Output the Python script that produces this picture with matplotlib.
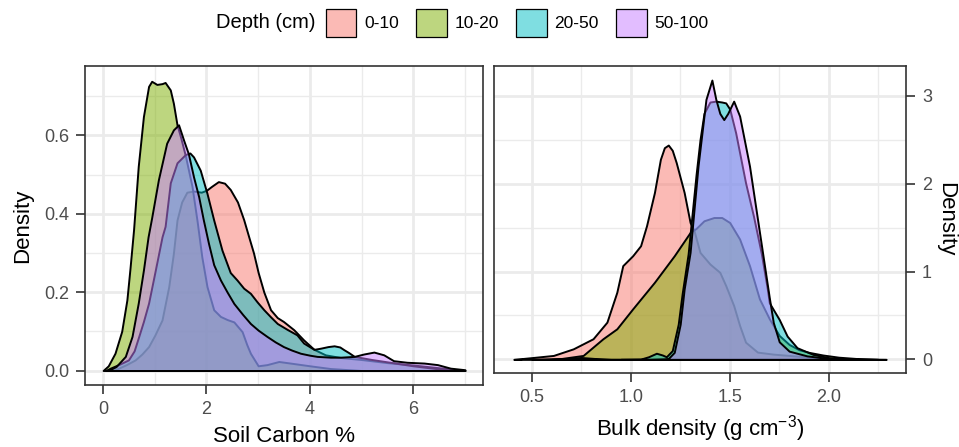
import matplotlib
matplotlib.use("Agg")
import matplotlib.pyplot as plt
from matplotlib.patches import Patch
from matplotlib.ticker import MultipleLocator

plt.rcParams['font.family'] = ['Liberation Sans', 'DejaVu Sans']
plt.rcParams['mathtext.default'] = 'regular'

# depth classes and their ggplot-style hues
depth_labels = ['0-10', '10-20', '20-50', '50-100']
depth_colors = ['#F8766D', '#7CAE00', '#00BFC4', '#C77CFF']

# soil carbon (%) density curves, one per depth class
carbon_010_x = [0.2, 0.3, 0.45, 0.62, 0.75, 0.88, 1.0, 1.14, 1.27, 1.36, 1.43, 1.52, 1.62, 1.75,
                1.9, 2.0, 2.1, 2.23, 2.35, 2.46, 2.6, 2.72, 2.82, 2.91, 3.0, 3.11, 3.24, 3.37,
                3.49, 3.69, 3.88, 4.08, 4.3, 4.6, 5.0, 5.5, 6.0, 6.5, 7.0]
carbon_010_y = [0.0, 0.006, 0.015, 0.027, 0.042, 0.061, 0.09, 0.129, 0.214, 0.299, 0.384, 0.43,
                0.455, 0.458, 0.455, 0.46, 0.47, 0.482, 0.478, 0.462, 0.43, 0.385, 0.34, 0.30,
                0.25, 0.2, 0.155, 0.135, 0.125, 0.104, 0.078, 0.054, 0.04, 0.033, 0.028, 0.02,
                0.014, 0.007, 0.0]

carbon_1020_x = [0.0, 0.1, 0.23, 0.36, 0.46, 0.52, 0.59, 0.68, 0.78, 0.88, 0.94, 1.04, 1.14,
                 1.2, 1.3, 1.36, 1.43, 1.5, 1.59, 1.72, 1.82, 1.91, 2.01, 2.14, 2.27, 2.4,
                 2.53, 2.69, 2.78, 2.85, 3.0, 3.17, 3.4, 3.62, 4.0, 4.4, 5.0]
carbon_1020_y = [0.0, 0.012, 0.044, 0.1, 0.18, 0.26, 0.36, 0.521, 0.648, 0.725, 0.738,
                 0.73, 0.732, 0.735, 0.716, 0.682, 0.627, 0.595, 0.549, 0.47, 0.38, 0.29,
                 0.214, 0.155, 0.138, 0.13, 0.124, 0.099, 0.066, 0.044, 0.012, 0.015, 0.023,
                 0.019, 0.012, 0.005, 0.0]

carbon_2050_x = [0.05, 0.14, 0.3, 0.49, 0.6, 0.69, 0.78, 0.88, 1.01, 1.14, 1.2, 1.3, 1.43,
                 1.59, 1.68, 1.75, 1.88, 2.01, 2.14, 2.3, 2.46, 2.59, 2.72, 2.85, 2.98, 3.11,
                 3.24, 3.37, 3.56, 3.75, 3.88, 4.08, 4.21, 4.35, 4.47, 4.58, 4.66, 4.76, 4.86,
                 5.2, 5.6, 6.0, 6.5, 7.0]
carbon_2050_y = [0.0, 0.006, 0.015, 0.027, 0.05, 0.087, 0.125, 0.172, 0.256, 0.341, 0.368,
                 0.479, 0.53, 0.551, 0.555, 0.545, 0.511, 0.452, 0.384, 0.307, 0.25, 0.231,
                 0.21, 0.197, 0.175, 0.155, 0.137, 0.12, 0.105, 0.091, 0.07, 0.054, 0.057,
                 0.061, 0.063, 0.06, 0.053, 0.045, 0.036, 0.028, 0.02, 0.012, 0.004, 0.0]

carbon_50100_x = [0.1, 0.25, 0.43, 0.56, 0.68, 0.78, 0.87, 0.94, 1.07, 1.23, 1.36, 1.46,
                  1.56, 1.65, 1.75, 1.85, 1.94, 2.04, 2.14, 2.27, 2.4, 2.53, 2.7, 2.85, 3.0,
                  3.17, 3.33, 3.49, 3.65, 3.82, 4.0, 4.14, 4.4, 4.6, 4.86, 5.04, 5.24, 5.43,
                  5.62, 5.88, 6.21, 6.47, 6.72, 7.0]
carbon_50100_y = [0.0, 0.01, 0.036, 0.087, 0.172, 0.256, 0.341, 0.39, 0.487, 0.58, 0.614,
                  0.627, 0.587, 0.553, 0.494, 0.443, 0.384, 0.324, 0.27, 0.231, 0.2, 0.171,
                  0.143, 0.12, 0.103, 0.087, 0.073, 0.061, 0.052, 0.044, 0.039, 0.036, 0.034,
                  0.034, 0.036, 0.042, 0.047, 0.04, 0.025, 0.021, 0.019, 0.015, 0.006, 0.002]

# bulk density (g cm-3) density curves
bulk_010_x = [0.41, 0.5, 0.61, 0.71, 0.81, 0.88, 0.93, 0.96, 1.01, 1.05, 1.08, 1.12, 1.15,
              1.17, 1.19, 1.21, 1.23, 1.27, 1.30, 1.32, 1.35, 1.40, 1.45, 1.48, 1.52, 1.55,
              1.58, 1.64, 1.72, 1.8, 1.9, 2.0, 2.15, 2.29]
bulk_010_y = [0.0, 0.02, 0.045, 0.12, 0.235, 0.424, 0.764, 1.067, 1.18, 1.294, 1.521, 1.90,
              2.278, 2.41, 2.44, 2.38, 2.24, 1.90, 1.558, 1.464, 1.218, 1.086, 0.991, 0.84,
              0.613, 0.386, 0.196, 0.083, 0.06, 0.045, 0.025, 0.01, 0.003, 0.0]

bulk_1020_x = [0.5, 0.65, 0.76, 0.86, 0.93, 1.01, 1.12, 1.22, 1.30, 1.33, 1.37, 1.42, 1.46,
               1.50, 1.55, 1.60, 1.65, 1.70, 1.75, 1.8, 1.85, 1.9, 1.97, 2.05, 2.14, 2.25]
bulk_1020_y = [0.0, 0.01, 0.045, 0.235, 0.348, 0.575, 0.878, 1.18, 1.445, 1.49, 1.578, 1.615,
               1.615, 1.558, 1.37, 1.067, 0.689, 0.462, 0.272, 0.17, 0.11, 0.08, 0.05, 0.025,
               0.01, 0.0]

bulk_2050_x = [0.95, 1.05, 1.09, 1.13, 1.16, 1.18, 1.21, 1.24, 1.26, 1.29, 1.31, 1.33, 1.35,
               1.37, 1.40, 1.43, 1.46, 1.48, 1.50, 1.53, 1.58, 1.62, 1.66, 1.69, 1.70, 1.75,
               1.79, 1.84, 1.92, 2.0, 2.1]
bulk_2050_y = [0.0, 0.003, 0.03, 0.07, 0.05, 0.03, 0.1, 0.4, 0.75, 1.2, 1.65, 2.1, 2.5, 2.8,
               2.93, 2.94, 2.93, 2.92, 2.85, 2.58, 2.01, 1.63, 1.2, 0.8, 0.644, 0.454, 0.265,
               0.133, 0.057, 0.02, 0.0]

bulk_50100_x = [0.6, 0.68, 0.75, 0.82, 0.9, 1.1, 1.17, 1.19, 1.22, 1.25, 1.27, 1.30, 1.32,
                1.34, 1.36, 1.38, 1.41, 1.43, 1.45, 1.47, 1.49, 1.52, 1.55, 1.60, 1.64, 1.66,
                1.68, 1.70, 1.72, 1.75, 1.80, 1.89, 2.0, 2.1]
bulk_50100_y = [0.0, 0.01, 0.022, 0.01, 0.0, 0.0, 0.005, 0.01, 0.08, 0.4, 0.8, 1.218, 1.71,
                2.2, 2.58, 2.96, 3.18, 2.96, 2.8, 2.73, 2.8, 2.94, 2.77, 2.2, 1.6, 1.3, 1.0,
                0.7, 0.42, 0.2, 0.094, 0.04, 0.01, 0.0]

carbon_curves = [(carbon_010_x, carbon_010_y), (carbon_1020_x, carbon_1020_y),
                 (carbon_2050_x, carbon_2050_y), (carbon_50100_x, carbon_50100_y)]
bulk_curves = [(bulk_010_x, bulk_010_y), (bulk_1020_x, bulk_1020_y),
               (bulk_2050_x, bulk_2050_y), (bulk_50100_x, bulk_50100_y)]

GRID = '#EBEBEB'
TEXT = '#4D4D4D'


def style_panel(ax):
    ax.set_facecolor('white')
    ax.set_axisbelow(True)
    ax.grid(which='major', color=GRID, linewidth=2.0)
    ax.grid(which='minor', color=GRID, linewidth=1.0)
    for sp in ax.spines.values():
        sp.set_color('#333333')
        sp.set_linewidth(1.2)
    ax.tick_params(which='major', length=6.5, width=1.2, color='#333333',
                   labelsize=13, labelcolor=TEXT, pad=5)
    ax.tick_params(which='minor', length=0)


def draw_densities(ax, curves):
    # one translucent filled density per depth, drawn in legend order
    for (xs, ys), col in zip(curves, depth_colors):
        ax.fill_between(xs, ys, 0, facecolor=matplotlib.colors.to_rgba(col, 0.5),
                        edgecolor='black', linewidth=1.4, joinstyle='round')


fig = plt.figure(figsize=(9.59, 4.47), dpi=100)

ax1 = fig.add_axes([85 / 959, 62 / 447, 398 / 959, 319 / 447])
draw_densities(ax1, carbon_curves)
style_panel(ax1)
ax1.set_xlim(-0.35, 7.35)
ax1.set_ylim(-0.037, 0.777)
ax1.xaxis.set_major_locator(MultipleLocator(2))
ax1.xaxis.set_minor_locator(MultipleLocator(1))
ax1.yaxis.set_major_locator(MultipleLocator(0.2))
ax1.yaxis.set_minor_locator(MultipleLocator(0.1))
ax1.yaxis.set_major_formatter(matplotlib.ticker.FormatStrFormatter('%.1f'))
ax1.set_xlabel('Soil Carbon %', fontsize=16, labelpad=6)
ax1.set_ylabel('Density', fontsize=16, labelpad=8)

ax2 = fig.add_axes([494 / 959, 74 / 447, 412 / 959, 307 / 447])
draw_densities(ax2, bulk_curves)
style_panel(ax2)
ax2.set_xlim(0.31, 2.39)
ax2.set_ylim(-0.155, 3.34)
ax2.xaxis.set_major_locator(MultipleLocator(0.5))
ax2.xaxis.set_minor_locator(MultipleLocator(0.25))
ax2.yaxis.set_major_locator(MultipleLocator(1))
ax2.yaxis.set_minor_locator(MultipleLocator(0.5))
ax2.xaxis.set_major_formatter(matplotlib.ticker.FormatStrFormatter('%.1f'))
ax2.yaxis.tick_right()
ax2.yaxis.set_label_position('right')
ax2.set_xlabel('Bulk density (g cm$^{-3}$)', fontsize=16, labelpad=5)
ax2.set_ylabel('Density', fontsize=16, rotation=-90, va='center', ha='center')
ax2.yaxis.set_label_coords(1.095, 0.5)

# legend along the top
handles = [Patch(facecolor=matplotlib.colors.to_rgba(c, 0.5), edgecolor='black', linewidth=0.9)
           for c in depth_colors]
fig.text(216 / 959, 1 - 23 / 447, 'Depth (cm)', fontsize=14.5, ha='left', va='center')
fig.legend(handles, depth_labels, loc='center left', bbox_to_anchor=(326 / 959, 1 - 23 / 447),
           ncol=4, frameon=False, fontsize=12.5, handlelength=1.75, handleheight=2.1,
           handletextpad=0.45, columnspacing=1.0, borderpad=0, borderaxespad=0)

fig.savefig('out.png', dpi=100)
